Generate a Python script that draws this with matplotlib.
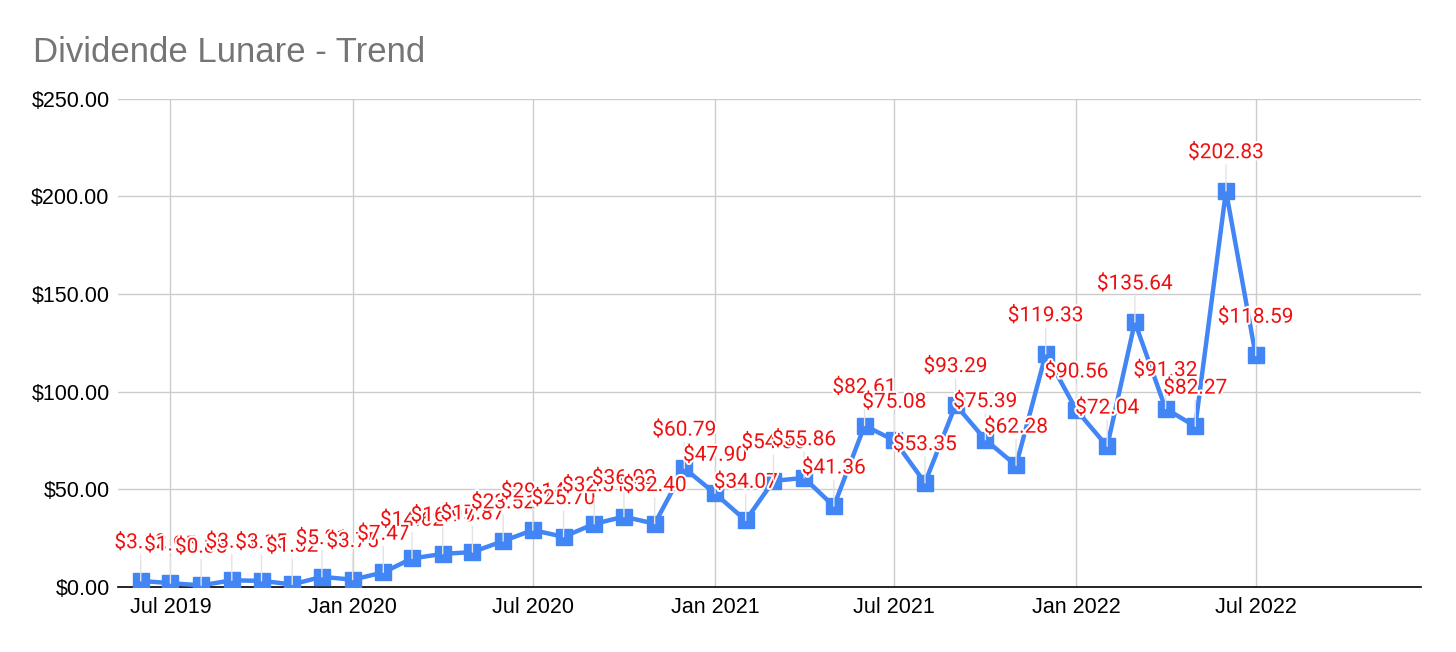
"""
Dividende Lunare - monthly dividend trend (line chart with value labels).
"""
import datetime as dt

import matplotlib
matplotlib.use("Agg")
import matplotlib.pyplot as plt
import matplotlib.dates as mdates
import matplotlib.patheffects as pe
from matplotlib.ticker import FuncFormatter

# monthly dividends, Jun 2019 .. Jul 2022
start_year, start_month = 2019, 6
dividends = [
    3.12, 1.95, 0.85, 3.41, 3.15, 1.32, 5.21, 3.75, 7.47, 14.62,
    16.95, 17.87, 23.52, 29.14, 25.70, 32.31, 36.02, 32.40, 60.79, 47.90,
    34.07, 54.36, 55.86, 41.36, 82.61, 75.08, 53.35, 93.29, 75.39, 62.28,
    119.33, 90.56, 72.04, 135.64, 91.32, 82.27, 202.83, 118.59,
]

months = []
y, m = start_year, start_month
for _ in dividends:
    months.append(dt.date(y, m, 1))
    m += 1
    if m > 12:
        m, y = 1, y + 1

tick_dates = [dt.date(2019, 7, 1), dt.date(2020, 1, 1), dt.date(2020, 7, 1),
              dt.date(2021, 1, 1), dt.date(2021, 7, 1), dt.date(2022, 1, 1),
              dt.date(2022, 7, 1)]

BLUE = "#4285f4"
RED = "#ee1111"

fig = plt.figure(figsize=(14.56, 6.52), dpi=100)
ax = fig.add_axes([0.081, 0.0997, 0.895, 0.7488])

ax.plot(months, dividends, color=BLUE, lw=3.2, marker="s", ms=11,
        markerfacecolor=BLUE, markeredgecolor=BLUE, zorder=3)

for d, v in zip(months, dividends):
    ax.annotate(f"${v:,.2f}", xy=(d, v), xytext=(0, 27.5), textcoords="offset points",
                ha="center", va="center", color=RED, fontsize=15, family="Roboto",
                zorder=5,
                path_effects=[pe.withStroke(linewidth=3, foreground="white")],
                arrowprops=dict(arrowstyle="-", color="#e3e3e3", lw=1,
                                shrinkA=0, shrinkB=0))

ax.set_xlim(dt.date(2019, 5, 9), dt.date(2022, 12, 15))
ax.set_ylim(0, 250)
ax.set_yticks([0, 50, 100, 150, 200, 250])
ax.yaxis.set_major_formatter(FuncFormatter(lambda v, _: f"${v:,.2f}"))
ax.set_xticks(tick_dates)
ax.xaxis.set_major_formatter(mdates.DateFormatter("%b %Y"))

ax.grid(True, color="#cccccc", lw=1)
ax.set_axisbelow(True)
for side in ("top", "right", "left"):
    ax.spines[side].set_visible(False)
ax.spines["bottom"].set_color("black")
ax.spines["bottom"].set_linewidth(1.2)
ax.tick_params(length=0, labelsize=15.5)
ax.tick_params(axis="x", pad=7)
ax.tick_params(axis="y", pad=6)
for lab in ax.get_xticklabels() + ax.get_yticklabels():
    lab.set_family("Liberation Sans")

fig.text(0.0227, 0.905, "Dividende Lunare - Trend", fontsize=25, color="#757575",
         family="Liberation Sans", ha="left", va="baseline")

fig.savefig("out.png", dpi=100, facecolor="white")
